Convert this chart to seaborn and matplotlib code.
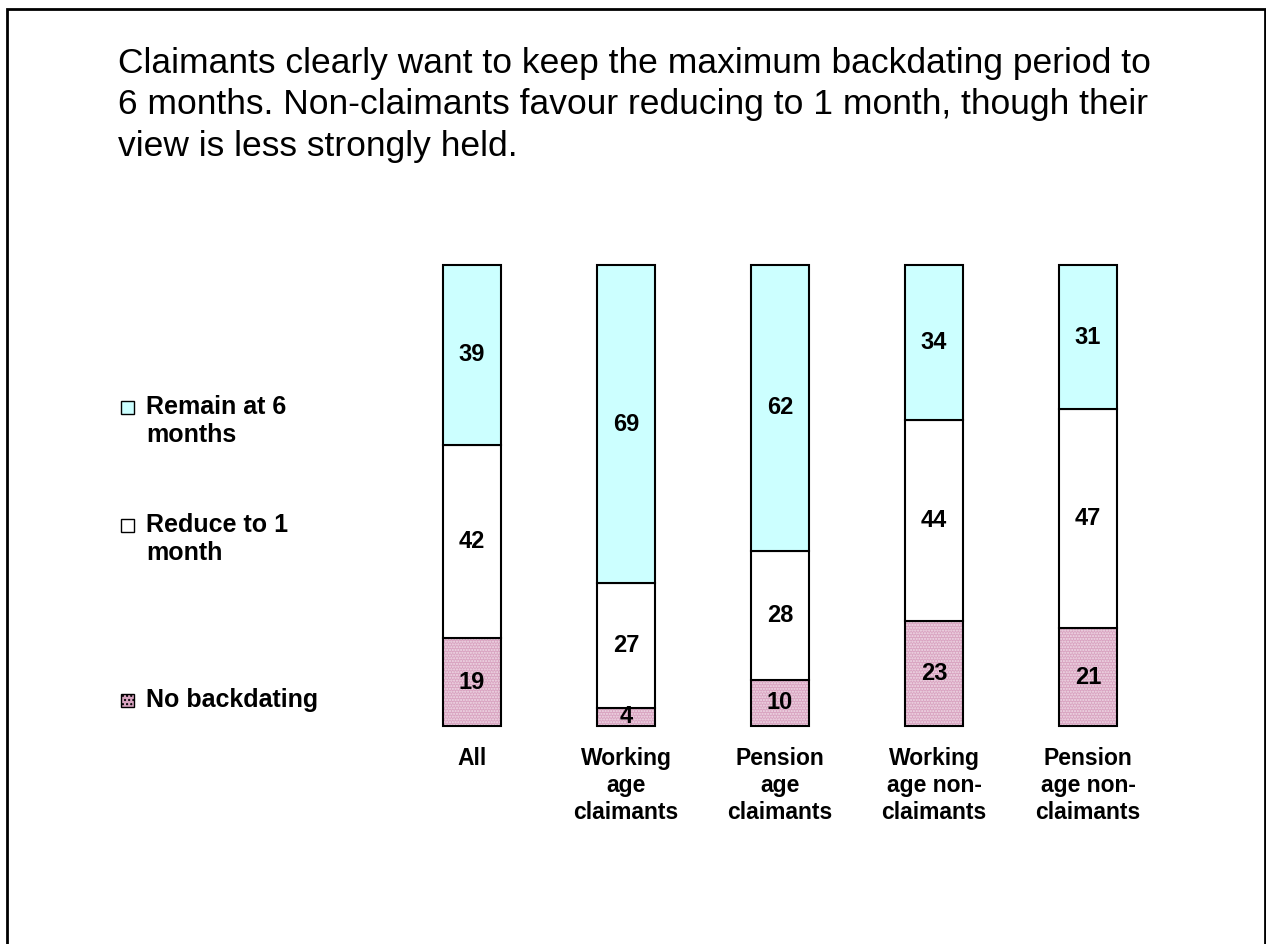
import numpy as np
import pandas as pd
import seaborn as sns
import matplotlib.pyplot as plt
from matplotlib.patches import Rectangle

# Chart data
groups = ["All", "Working\nage\nclaimants", "Pension\nage\nclaimants",
          "Working\nage non-\nclaimants", "Pension\nage non-\nclaimants"]
no_backdating = [19, 4, 10, 23, 21]
reduce_1_month = [42, 27, 28, 44, 47]
remain_6_months = [39, 69, 62, 34, 31]

series_names = ["No backdating", "Reduce to 1\nmonth", "Remain at 6\nmonths"]
series_colors = ["#D9A4C1", "#FFFFFF", "#CCFFFF"]

title = ("Claimants clearly want to keep the maximum backdating period to\n"
         "6 months. Non-claimants favour reducing to 1 month, though their\n"
         "view is less strongly held.")

df = pd.DataFrame({"group": groups,
                   "No backdating": no_backdating,
                   "Reduce": reduce_1_month,
                   "Remain": remain_6_months})
cols = ["No backdating", "Reduce", "Remain"]

# 100% stacked: bar heights are shares of each group's total
totals = df[cols].sum(axis=1)
shares = df[cols].div(totals, axis=0) * 100
shares["group"] = df["group"]

sns.set_style("white")
plt.rcParams['font.family'] = ['Liberation Sans', 'DejaVu Sans']
plt.rcParams['text.color'] = 'black'
plt.rcParams['xtick.color'] = 'black'

W, H = 1266, 944
fig = plt.figure(figsize=(W / 100, H / 100), dpi=100)

# axes placed in pixel terms: x -0.5..4.5 -> 395..1165, y 0..100 -> 726..265
ax = fig.add_axes([395 / W, (H - 726) / H, 770 / W, 461 / H])

bottom = np.zeros(len(groups))
bar_w = 58 / 154
for col, color in zip(cols, series_colors):
    vals = shares[col].values
    if col == "No backdating":
        # dotted fill first, then black outline on top
        sns.barplot(x="group", y=col, data=shares, ax=ax, bottom=bottom, width=bar_w,
                    color=color, saturation=1, edgecolor="#F0DCE7", linewidth=0,
                    hatch="......")
    sns.barplot(x="group", y=col, data=shares, ax=ax, bottom=bottom, width=bar_w,
                color=color, saturation=1, edgecolor="black", linewidth=1.5,
                fill=(col != "No backdating"))
    for i, v in enumerate(vals):
        ax.text(i, bottom[i] + v / 2, str(df[col][i]), ha="center", va="center",
                fontsize=17, fontweight="bold")
    bottom = bottom + vals

for p in ax.patches:
    p.set_clip_on(False)

ax.set_xlim(-0.5, 4.5)
ax.set_ylim(0, 100)
ax.set_xlabel("")
ax.set_ylabel("")
ax.set_yticks([])
ax.tick_params(axis="x", length=0, pad=15)
ax.set_xticks(range(len(groups)))
ax.set_xticklabels(groups, fontsize=16.5, fontweight="bold", linespacing=1.22)
sns.despine(ax=ax, left=True, bottom=True)

# legend on the left, drawn as text + small squares
leg_y = [700, 525, 407]
for name, color, y in zip(series_names, series_colors, leg_y):
    fig.patches.append(Rectangle((121 / W, (H - y - 6.5) / H), 13 / W, 13 / H,
                                 transform=fig.transFigure, facecolor=color,
                                 edgecolor="black", linewidth=1.0,
                                 hatch="...." if name == "No backdating" else None))
    fig.text(146 / W, (H - (y - 12)) / H, name, fontsize=18, fontweight="bold",
             va="top", ha="left", linespacing=1.2)

fig.text(118 / W, (H - 47) / H, title, fontsize=25.5, ha="left", va="top",
         linespacing=1.32)

# outer frame
fig.patches.append(Rectangle((7 / W, -0.05), (1265 - 7) / W, (H - 9) / H + 0.05,
                             transform=fig.transFigure, fill=False,
                             edgecolor="black", linewidth=2))

fig.savefig("out.png", dpi=100, facecolor="white")
